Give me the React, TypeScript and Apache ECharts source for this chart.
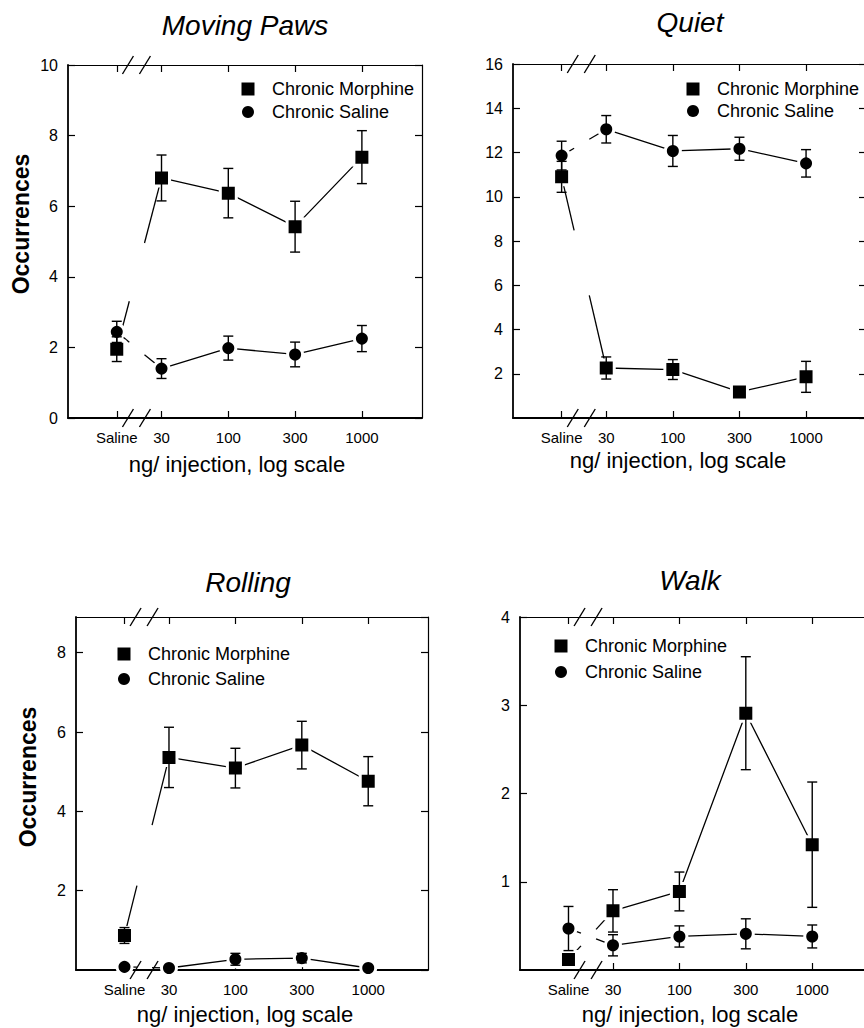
import React, { useEffect, useRef } from 'react';
import * as echarts from 'echarts';

// ---- Data ----
const doseLabels = ['Saline', '30', '100', '300', '1000'];
const dosePositions = [0.33, 1, 2, 3, 4];
const seriesNames = ['Chronic Morphine', 'Chronic Saline'];
const panelTitles = ['Moving Paws', 'Quiet', 'Rolling', 'Walk'];

// Moving Paws
const pawsMorphine = [1.95, 6.8, 6.37, 5.42, 7.39];
const pawsMorphineErr = [0.35, 0.65, 0.7, 0.72, 0.75];
const pawsSaline = [2.44, 1.4, 1.98, 1.8, 2.25];
const pawsSalineErr = [0.3, 0.28, 0.34, 0.35, 0.37];

// Quiet
const quietMorphine = [10.9, 2.26, 2.19, 1.18, 1.86];
const quietMorphineErr = [0.7, 0.5, 0.45, 0.15, 0.7];
const quietSaline = [11.86, 13.05, 12.07, 12.17, 11.51];
const quietSalineErr = [0.65, 0.62, 0.7, 0.52, 0.62];

// Rolling
const rollingMorphine = [0.87, 5.36, 5.09, 5.67, 4.76];
const rollingMorphineErr = [0.2, 0.76, 0.5, 0.6, 0.62];
const rollingSaline = [0.08, 0.05, 0.27, 0.3, 0.05];
const rollingSalineErr = [0.05, 0.03, 0.15, 0.12, 0.03];

// Walk
const walkMorphine = [0.12, 0.67, 0.89, 2.91, 1.42];
const walkMorphineErr = [0.05, 0.24, 0.22, 0.64, 0.71];
const walkSaline = [0.47, 0.28, 0.38, 0.41, 0.38];
const walkSalineErr = [0.25, 0.12, 0.12, 0.17, 0.13];

// y axis scales
const yMaxes = [10, 16, 8.9, 4];
const yIntervals = [2, 2, 2, 1];

const FONT = '"Liberation Sans", Arial, Helvetica, sans-serif';

const panelData = [
  { m: pawsMorphine, me: pawsMorphineErr, s: pawsSaline, se: pawsSalineErr },
  { m: quietMorphine, me: quietMorphineErr, s: quietSaline, se: quietSalineErr },
  { m: rollingMorphine, me: rollingMorphineErr, s: rollingSaline, se: rollingSalineErr },
  { m: walkMorphine, me: walkMorphineErr, s: walkSaline, se: walkSalineErr },
];

// layout (pixels)
const layouts = [
  { grid: { left: 68, top: 65, width: 354, height: 353 }, title: [245, 25], xName: [237, 464], yName: [21, 224], legend: [248, 89, 23], showMin: true, showMax: true },
  { grid: { left: 513, top: 64, width: 353, height: 354 }, title: [690, 22], xName: [678, 460], yName: null, legend: [693, 89, 22], showMin: false, showMax: true },
  { grid: { left: 76, top: 617, width: 352, height: 353 }, title: [248, 582], xName: [245, 1014], yName: [28, 777], legend: [124, 654, 25], showMin: false, showMax: false },
  { grid: { left: 520, top: 617, width: 352, height: 353 }, title: [690, 580], xName: [690, 1014], yName: null, legend: [561, 646, 26], showMin: false, showMax: true },
];

const BLACK = '#000';

function labelFor(v: number) {
  const idx = dosePositions.findIndex((p) => Math.abs(p - v) < 1e-6);
  return idx >= 0 ? doseLabels[idx] : '';
}

function errorBarRender(params: any, api: any) {
  const x = api.value(0);
  const y = api.value(1);
  const e = api.value(2);
  const hi = api.coord([x, y + e]);
  const lo = api.coord([x, Math.max(0, y - e)]);
  const hw = 5;
  const style = { stroke: BLACK, lineWidth: 1.4 };
  return {
    type: 'group',
    children: [
      { type: 'line', shape: { x1: hi[0], y1: hi[1], x2: lo[0], y2: lo[1] }, style },
      { type: 'line', shape: { x1: hi[0] - hw, y1: hi[1], x2: hi[0] + hw, y2: hi[1] }, style },
      { type: 'line', shape: { x1: lo[0] - hw, y1: lo[1], x2: lo[0] + hw, y2: lo[1] }, style },
    ],
  };
}

function connectorRender(params: any, api: any) {
  const p0 = api.coord([api.value(0), api.value(1)]);
  const p1 = api.coord([api.value(2), api.value(3)]);
  const at = (t: number) => [p0[0] + (p1[0] - p0[0]) * t, p0[1] + (p1[1] - p0[1]) * t];
  const a = at(0.28);
  const b = at(0.62);
  const style = { stroke: BLACK, lineWidth: 1.3 };
  return {
    type: 'group',
    children: [
      { type: 'line', shape: { x1: p0[0], y1: p0[1], x2: a[0], y2: a[1] }, style },
      { type: 'line', shape: { x1: b[0], y1: b[1], x2: p1[0], y2: p1[1] }, style },
    ],
  };
}

function breakRender(params: any, api: any) {
  const c = api.coord([api.value(0), api.value(1)]);
  const cs = params.coordSys;
  const ys = [cs.y, cs.y + cs.height];
  const children: any[] = [];
  const style = { stroke: BLACK, lineWidth: 1.4 };
  ys.forEach((yy: number) => {
    [-8.5, 8.5].forEach((off) => {
      const cx = c[0] + off;
      children.push({ type: 'line', shape: { x1: cx - 5.5, y1: yy + 9, x2: cx + 5.5, y2: yy - 9 }, style });
    });
  });
  return { type: 'group', children };
}

function buildOption() {
  const grid: any[] = [];
  const xAxis: any[] = [];
  const yAxis: any[] = [];
  const series: any[] = [];
  const graphic: any[] = [];
  const breakPos = dosePositions[0] + 0.44 * (dosePositions[1] - dosePositions[0]);

  panelData.forEach((pd, i) => {
    const L = layouts[i];
    grid.push({ ...L.grid, containLabel: false, outerBoundsMode: 'none' });
    const tickCommon = { show: true, inside: true, length: 7, customValues: dosePositions, lineStyle: { color: BLACK, width: 1.2 } };
    xAxis.push({
      type: 'value', gridIndex: i, min: -0.4, max: 4.9, position: 'bottom',
      axisLine: { show: true, onZero: false, lineStyle: { color: BLACK, width: 1.8 } },
      axisTick: tickCommon,
      axisLabel: { show: true, customValues: dosePositions, formatter: (v: number) => labelFor(v), fontSize: 15, fontFamily: FONT, color: BLACK, margin: 12 },
      splitLine: { show: false },
    });
    xAxis.push({
      type: 'value', gridIndex: i, min: -0.4, max: 4.9, position: 'top',
      axisLine: { show: true, onZero: false, lineStyle: { color: BLACK, width: 1.2 } },
      axisTick: tickCommon,
      axisLabel: { show: false },
      splitLine: { show: false },
    });
    const yTick = { show: true, inside: true, length: 7, lineStyle: { color: BLACK, width: 1.2 } };
    yAxis.push({
      type: 'value', gridIndex: i, min: 0, max: yMaxes[i], interval: yIntervals[i], position: 'left',
      axisLine: { show: true, onZero: false, lineStyle: { color: BLACK, width: 1.8 } },
      axisTick: yTick,
      axisLabel: { show: true, fontSize: 16, fontFamily: FONT, color: BLACK, margin: 10, showMinLabel: L.showMin, showMaxLabel: L.showMax },
      splitLine: { show: false },
    });
    yAxis.push({
      type: 'value', gridIndex: i, min: 0, max: yMaxes[i], interval: yIntervals[i], position: 'right',
      axisLine: { show: true, onZero: false, lineStyle: { color: BLACK, width: 1.2 } },
      axisTick: yTick,
      axisLabel: { show: false },
      splitLine: { show: false },
    });

    const xi = 2 * i;
    const yi = 2 * i;
    const groups = [
      { name: seriesNames[0], v: pd.m, e: pd.me, symbol: 'rect', size: 16 },
      { name: seriesNames[1], v: pd.s, e: pd.se, symbol: 'circle', size: 15 },
    ];
    groups.forEach((g) => {
      // connector (saline -> 30) broken at the axis break
      series.push({
        type: 'custom', name: g.name, xAxisIndex: xi, yAxisIndex: yi, z: 2, silent: true,
        renderItem: connectorRender,
        encode: { x: [0, 2], y: [1, 3] },
        data: [[dosePositions[0], g.v[0], dosePositions[1], g.v[1]]],
      });
      const itemStyle = { color: BLACK, borderColor: '#fff', borderWidth: 3, opacity: 1 };
      // main line 30..1000
      series.push({
        type: 'line', name: g.name, xAxisIndex: xi, yAxisIndex: yi, z: 3,
        symbol: g.symbol, symbolSize: g.size, showAllSymbol: true,
        itemStyle, lineStyle: { color: BLACK, width: 1.3 },
        data: dosePositions.slice(1).map((x, j) => [x, g.v[j + 1]]),
      });
      // saline point
      series.push({
        type: 'scatter', name: g.name, xAxisIndex: xi, yAxisIndex: yi, z: 3,
        symbol: g.symbol, symbolSize: g.size, itemStyle,
        data: [[dosePositions[0], g.v[0]]],
      });
      // error bars
      series.push({
        type: 'custom', name: g.name, xAxisIndex: xi, yAxisIndex: yi, z: 4, silent: true,
        renderItem: errorBarRender,
        encode: { x: 0, y: 1 },
        data: dosePositions.map((x, j) => [x, g.v[j], g.e[j]]),
      });
    });
    // axis break marks
    series.push({
      type: 'custom', xAxisIndex: xi, yAxisIndex: yi, z: 5, silent: true, clip: false,
      renderItem: breakRender,
      encode: { x: 0, y: 1 },
      data: [[breakPos, 0]],
    });

    // title
    graphic.push({
      type: 'text', x: L.title[0], y: L.title[1],
      style: { text: panelTitles[i], fontSize: 28, fontStyle: 'italic', fontFamily: FONT, fill: BLACK, align: 'center', verticalAlign: 'middle' },
    });
    // x axis name
    graphic.push({
      type: 'text', x: L.xName[0], y: L.xName[1],
      style: { text: 'ng/ injection, log scale', fontSize: 22, fontFamily: FONT, fill: BLACK, align: 'center', verticalAlign: 'middle' },
    });
    if (L.yName) {
      graphic.push({
        type: 'text', x: L.yName[0], y: L.yName[1], rotation: Math.PI / 2,
        style: { text: 'Occurrences', fontSize: 23, fontWeight: 'bold', fontFamily: FONT, fill: BLACK, align: 'center', verticalAlign: 'middle' },
      });
    }
    // legend
    const [lx, ly, gap] = L.legend;
    graphic.push({ type: 'rect', shape: { x: lx - 6.5, y: ly - 6.5, width: 13, height: 13 }, style: { fill: BLACK } });
    graphic.push({ type: 'circle', shape: { cx: lx, cy: ly + gap, r: 6 }, style: { fill: BLACK } });
    graphic.push({ type: 'text', x: lx + 24, y: ly, style: { text: seriesNames[0], fontSize: 18, fontFamily: FONT, fill: BLACK, align: 'left', verticalAlign: 'middle' } });
    graphic.push({ type: 'text', x: lx + 24, y: ly + gap, style: { text: seriesNames[1], fontSize: 18, fontFamily: FONT, fill: BLACK, align: 'left', verticalAlign: 'middle' } });
  });

  return {
    animation: false,
    backgroundColor: '#fff',
    grid, xAxis, yAxis, series, graphic,
  };
}

export default function App() {
  const ref = useRef<HTMLDivElement>(null);
  useEffect(() => {
    if (!ref.current) return;
    const chart = echarts.init(ref.current, undefined, { renderer: 'svg' });
    chart.setOption(buildOption() as any);
    return () => chart.dispose();
  }, []);
  return <div ref={ref} style={{ position: 'fixed', left: 0, top: 0, width: 864, height: 1028, background: '#fff' }} />;
}
